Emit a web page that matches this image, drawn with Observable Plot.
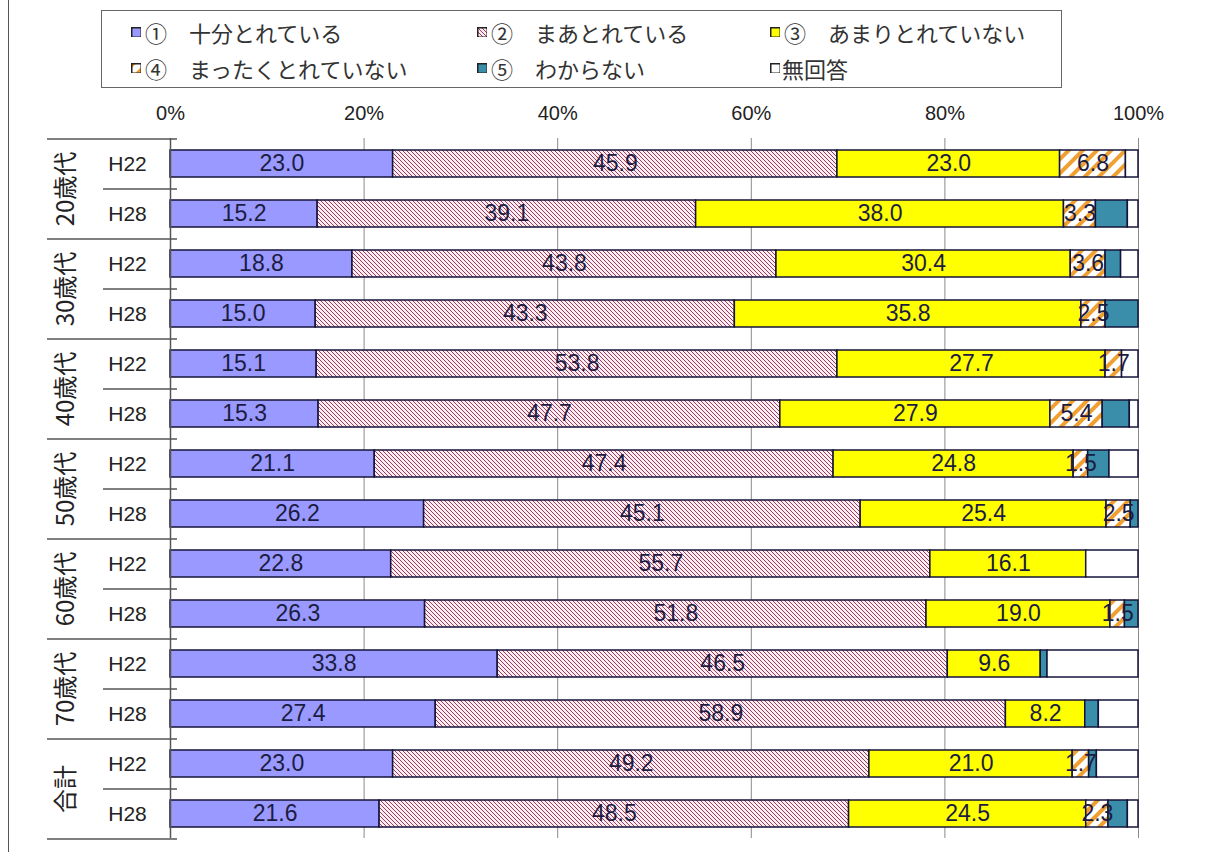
<!DOCTYPE html>
<html><head><meta charset="utf-8">
<script src="https://cdn.jsdelivr.net/npm/d3@7"></script>
<script src="https://cdn.jsdelivr.net/npm/@observablehq/plot@0.6"></script>
<style>
body{margin:0;background:#fff;width:1216px;height:852px;overflow:hidden;position:relative;font-family:"Liberation Sans","Noto Sans CJK JP",sans-serif}
#frame{position:absolute;left:8px;top:0;width:0;height:852px;border-left:1.5px solid #555}
#legend{position:absolute;left:101px;top:10px;width:959px;height:76px;border:1.5px solid #666;background:#fff}
.item{position:absolute;font-size:22px;color:#333;display:flex;align-items:center;white-space:nowrap;font-family:"Noto Sans CJK JP",sans-serif;height:26px}
.sw{width:10px;height:10px;margin-right:4px}
#chart{position:absolute;left:0;top:0}
</style></head><body>
<svg width="0" height="0" style="position:absolute">
<defs>
<pattern id="p2" patternUnits="userSpaceOnUse" width="4" height="4"><rect width="4" height="4" fill="#fbeef3"/><path d="M-1,-1 L5,5 M-1,3 L1,5 M3,-1 L5,1" stroke="#a23a60" stroke-width="1"/></pattern>
<pattern id="p4" patternUnits="userSpaceOnUse" width="10" height="10" patternTransform="rotate(45)"><rect width="10" height="10" fill="#fff"/><rect width="4" height="10" fill="#f0a030"/></pattern>
</defs></svg>
<div id="frame"></div>
<div id="chart"></div>
<div id="legend"></div>
<script>
const groups = ["20歳代","30歳代","40歳代","50歳代","60歳代","70歳代","合計"];
const years = ["H22","H28"];
const series = ["①　十分とれている","②　まあとれている","③　あまりとれていない","④　まったくとれていない","⑤　わからない","無回答"];
const v1 = [23.0,15.2,18.8,15.0,15.1,15.3,21.1,26.2,22.8,26.3,33.8,27.4,23.0,21.6];
const v2 = [45.9,39.1,43.8,43.3,53.8,47.7,47.4,45.1,55.7,51.8,46.5,58.9,49.2,48.5];
const v3 = [23.0,38.0,30.4,35.8,27.7,27.9,24.8,25.4,16.1,19.0,9.6,8.2,21.0,24.5];
const v4 = [6.8,3.3,3.6,2.5,1.7,5.4,1.5,2.5,0,1.5,0,0,1.7,2.3];
const v5 = [0,3.3,1.6,3.4,0,2.8,2.2,0.8,0,1.4,0.7,1.4,0.8,2.0];
const v6 = [1.3,1.1,1.8,0,1.7,0.9,3.0,0,5.4,0,9.4,4.1,4.3,1.1];
const xTicks = [0,20,40,60,80,100];

const fills = ["#9999ff","url(#p2)","#ffff00","url(#p4)","#3a8ea9","#ffffff"];
const seriesValues = [v1,v2,v3,v4,v5,v6];
const rowKeys = groups.flatMap(g => years.map(y => g + "|" + y));
const data = [];
seriesValues.forEach((vals, si) => {
  rowKeys.forEach((row, ri) => data.push({row, series: series[si], si, value: vals[ri]}));
});

// legend
const legendPos = [[131,19],[477,19],[770,19],[131,55],[477,55],[770,55]];
series.forEach((s, i) => {
  const it = document.createElement("div");
  it.className = "item";
  it.style.left = legendPos[i][0] + "px";
  it.style.top = legendPos[i][1] + "px";
  it.innerHTML = `<svg class="sw" width="11" height="11" style="margin-right:${i===5?2:4}px"><rect x="0.75" y="0.75" width="9.5" height="9.5" fill="${fills[i]}" stroke="#222" stroke-width="1.5"/></svg><span>${s}</span>`;
  document.body.appendChild(it);
});

const chart = Plot.plot({
  width: 1216, height: 852,
  marginTop: 138, marginBottom: 14, marginLeft: 170, marginRight: 78,
  x: {domain: [0, 100]},
  y: {domain: rowKeys, paddingInner: 0.46, paddingOuter: 0.23},
  color: {type: "identity"},
  style: {fontFamily: '"Liberation Sans","Noto Sans CJK JP",sans-serif', color: "#222", background: "transparent"},
  marks: [
    Plot.ruleX(xTicks.slice(1), {stroke: "#8a8a8a", strokeWidth: 1}),
    Plot.barX(data, {x: "value", y: "row", fill: d => fills[d.si], stroke: "#14143a", strokeWidth: 1.5, filter: d => d.value > 0}),
    Plot.ruleX([0], {stroke: "#555", strokeWidth: 1.5}),
    Plot.text(data, Plot.stackX({x: "value", y: "row", text: d => d.value.toFixed(1), filter: d => d.si < 4 && d.value > 0, fontSize: 23, fill: "#1c1c42"})),
    Plot.axisX(xTicks, {anchor: "top", tickFormat: d => d + "%", tickSize: 0, tickPadding: 19, fontSize: 20, label: null}),
    Plot.axisY({tickSize: 0, tickPadding: 43, textAnchor: "middle", tickFormat: k => k.split("|")[1], fontSize: 21, label: null}),
    Plot.ruleY(groups, {y: g => g + "|H28", dy: -25, insetLeft: -67, insetRight: 961, stroke: "#555", strokeWidth: 1.5}),
    Plot.ruleY(groups, {y: g => g + "|H22", dy: -25, insetLeft: -123, insetRight: 961, stroke: "#555", strokeWidth: 1.5}),
    Plot.ruleY([groups[groups.length - 1]], {y: g => g + "|H28", dy: 25, insetLeft: -123, insetRight: 961, stroke: "#555", strokeWidth: 1.5}),
    Plot.text(groups, {y: g => g + "|H22", dy: 25, frameAnchor: "left", textAnchor: "middle", dx: -104, rotate: -90, fontSize: 24, fill: "#222", fontFamily: '"Noto Sans CJK JP",sans-serif'})
  ]
});
document.getElementById("chart").appendChild(chart);
</script>
</body></html>
